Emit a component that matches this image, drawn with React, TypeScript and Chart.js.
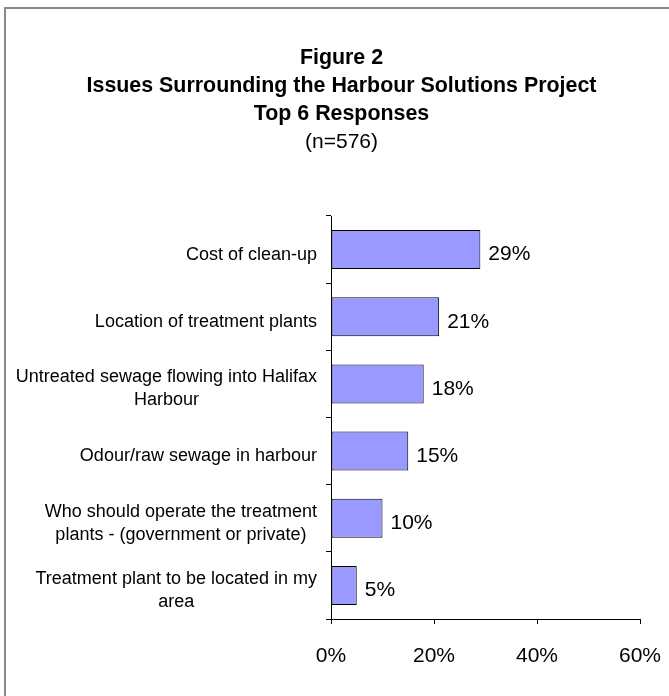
import React, { useEffect, useRef } from "react";
import { Chart, registerables } from "chart.js";

Chart.register(...registerables);

const categories: string[][] = [
  ["Cost of clean-up"],
  ["Location of treatment plants"],
  ["Untreated sewage flowing into Halifax", "Harbour"],
  ["Odour/raw sewage in harbour"],
  ["Who should operate the treatment", "plants - (government or private)"],
  ["Treatment plant to be located in my", "area"],
];
const values: number[] = [29, 21, 18, 15, 10, 5];
const xMin = 0;
const xMax = 60;
const xStep = 20;
const titleLines: string[] = [
  "Figure 2",
  "Issues Surrounding the Harbour Solutions Project",
  "Top 6 Responses",
];
const subtitleText = "(n=576)";

const FONT = '"Liberation Sans", Arial, Helvetica, sans-serif';

const categoryLabelPlugin = {
  id: "categoryLabels",
  afterDraw(chart: any) {
    const ys = chart.scales.y;
    const ctx = chart.ctx;
    ctx.save();
    ctx.font = `18px ${FONT}`;
    ctx.fillStyle = "#000";
    ctx.textBaseline = "middle";
    ctx.textAlign = "center";
    const right = ys.right - 14;
    const lh = 23;
    categories.forEach((lines, i) => {
      const cy = ys.getPixelForValue(i) + 5;
      const w = Math.max(...lines.map((l) => ctx.measureText(l).width));
      const cx = right - w / 2;
      const y0 = cy - ((lines.length - 1) * lh) / 2;
      lines.forEach((l, j) => ctx.fillText(l, cx, y0 + j * lh));
    });
    ctx.restore();
  },
};

const valueLabelPlugin = {
  id: "valueLabels",
  afterDatasetsDraw(chart: any) {
    const ctx = chart.ctx;
    const meta = chart.getDatasetMeta(0);
    ctx.save();
    ctx.font = `21px ${FONT}`;
    ctx.fillStyle = "#000";
    ctx.textBaseline = "middle";
    ctx.textAlign = "left";
    meta.data.forEach((bar: any, i: number) => {
      ctx.fillText(`${values[i]}%`, bar.x + 8, bar.y + 5);
    });
    ctx.restore();
  },
};

export default function App() {
  const canvasRef = useRef<HTMLCanvasElement | null>(null);

  useEffect(() => {
    if (!canvasRef.current) return;
    const chart = new Chart(canvasRef.current, {
      type: "bar",
      data: {
        labels: categories,
        datasets: [
          {
            data: values,
            backgroundColor: "#9999FF",
            borderColor: "#000000",
            borderWidth: 1,
            borderSkipped: false,
            barPercentage: 0.58,
            categoryPercentage: 1,
          },
        ],
      },
      options: {
        indexAxis: "y",
        responsive: false,
        animation: false,
        layout: { padding: { left: 14, right: 0, top: 0, bottom: 29 } },
        plugins: {
          legend: { display: false },
          tooltip: { enabled: false },
          title: {
            display: true,
            text: titleLines,
            color: "#000",
            font: { family: FONT, size: 21.4, weight: "bold", lineHeight: "28px" },
            padding: { top: 44, bottom: 0 },
          },
          subtitle: {
            display: true,
            text: subtitleText,
            color: "#000",
            font: { family: FONT, size: 21, weight: "normal", lineHeight: "28px" },
            padding: { top: 0, bottom: 60 },
          },
        },
        scales: {
          x: {
            min: xMin,
            max: xMax,
            border: { display: true, color: "#000", width: 1 },
            grid: {
              display: true,
              drawOnChartArea: false,
              drawTicks: true,
              tickLength: 5,
              color: "#000",
            },
            ticks: {
              stepSize: xStep,
              color: "#000",
              padding: 20,
              font: { family: FONT, size: 21 },
              callback: (v: any) => `${v}%`,
            },
            afterFit: (scale: any) => {
              scale.height = 48;
              scale.paddingLeft = 0;
              scale.paddingRight = 29;
            },
          },
          y: {
            border: { display: true, color: "#000", width: 1 },
            grid: {
              display: true,
              offset: true,
              drawOnChartArea: false,
              drawTicks: true,
              tickLength: 5,
              color: "#000",
            },
            ticks: { display: false },
            afterFit: (scale: any) => {
              scale.width = 317;
            },
          },
        },
      },
      plugins: [categoryLabelPlugin, valueLabelPlugin],
    } as any);
    return () => chart.destroy();
  }, []);

  return (
    <div
      style={{
        position: "fixed",
        left: 0,
        top: 0,
        width: 669,
        height: 696,
        overflow: "hidden",
        background: "#fff",
      }}
    >
      <div
        style={{
          position: "absolute",
          left: 4,
          top: 7,
          width: 720,
          height: 720,
          borderLeft: "2px solid #8a8a8a",
          borderTop: "2px solid #8a8a8a",
        }}
      />
      <canvas
        ref={canvasRef}
        width={669}
        height={696}
        style={{ position: "absolute", left: 0, top: 0 }}
      />
    </div>
  );
}
